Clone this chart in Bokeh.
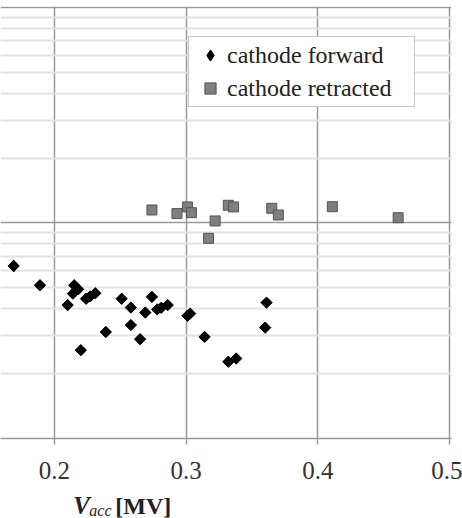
import numpy as np
from bokeh.plotting import figure
from bokeh.layouts import column
from bokeh.models import FixedTicker, Range1d, Legend, LegendItem
from bokeh.embed import file_html
from bokeh.resources import INLINE

# cathode forward (diamonds)
fwd_v = [0.169, 0.189, 0.215, 0.218, 0.214, 0.210, 0.224, 0.227, 0.231, 0.251,
         0.258, 0.258, 0.239, 0.265, 0.220, 0.274, 0.269, 0.278, 0.281, 0.286,
         0.301, 0.303, 0.314, 0.332, 0.338, 0.361, 0.360]
fwd_y = [0.632, 0.514, 0.514, 0.492, 0.470, 0.416, 0.445, 0.456, 0.472, 0.445,
         0.405, 0.336, 0.312, 0.289, 0.257, 0.454, 0.384, 0.397, 0.404, 0.416,
         0.371, 0.380, 0.296, 0.227, 0.235, 0.427, 0.327]

# cathode retracted (squares)
ret_v = [0.274, 0.293, 0.301, 0.304, 0.322, 0.317, 0.332, 0.336, 0.365, 0.370, 0.411, 0.461]
ret_y = [1.149, 1.105, 1.187, 1.116, 1.022, 0.849, 1.208, 1.187, 1.170, 1.089, 1.190, 1.058]

x_ticks = [0.2, 0.3, 0.4, 0.5]
y_major = [0.1, 1, 10]
y_minor = [0.2, 0.3, 0.4, 0.5, 0.6, 0.7, 0.8, 0.9, 2, 3, 4, 5, 6, 7, 8, 9]
series_labels = ["cathode forward", "cathode retracted"]
x_title_parts = ["V", "acc", "[MV]"]

xr = Range1d(0.159, 0.5015)

p = figure(width=462, height=490, output_backend="svg", toolbar_location=None,
           y_axis_type="log", x_range=xr, y_range=Range1d(0.1, 10.1),
           min_border_left=0, min_border_right=11, min_border_top=6, min_border_bottom=52)
p.outline_line_color = None
p.background_fill_color = "white"

yt = FixedTicker(ticks=y_major, minor_ticks=y_minor)
p.yaxis.ticker = yt
p.ygrid.ticker = yt
p.yaxis.visible = False
p.ygrid.grid_line_color = "#9a9a9a"
p.ygrid.grid_line_width = 1.5
p.ygrid.minor_grid_line_color = "#e2e2e2"
p.ygrid.minor_grid_line_width = 2

xt = FixedTicker(ticks=x_ticks, minor_ticks=[])
p.xaxis.ticker = xt
p.xgrid.ticker = xt
p.xgrid.grid_line_color = "#9a9a9a"
p.xgrid.grid_line_width = 1.5

ax = p.xaxis[0]
ax.axis_line_color = "#9a9a9a"
ax.axis_line_width = 1.5
ax.major_tick_line_color = "#9a9a9a"
ax.major_tick_line_width = 1.5
ax.major_tick_out = 6
ax.major_tick_in = 0
ax.minor_tick_line_color = None
ax.major_label_text_font = "Liberation Serif"
ax.major_label_text_font_size = "25px"
ax.major_label_text_color = "#333333"
ax.major_label_standoff = 17

# legend swatch for the diamonds: drawn under the first diamond (hidden by it)
fwd_key = p.scatter(fwd_v[:1], fwd_y[:1], marker="diamond", size=12,
                    fill_color="black", line_color="black")
fwd = p.scatter(fwd_v, fwd_y, marker="square", angle=np.pi / 4, size=8,
                fill_color="black", line_color="black")
ret = p.scatter(ret_v, ret_y, marker="square", size=10,
                fill_color="#7f7f7f", line_color="#555555", line_width=1)

legend = Legend(items=[LegendItem(label=series_labels[0], renderers=[fwd_key]),
                       LegendItem(label=series_labels[1], renderers=[ret])],
                location=(188, 331), padding=4, spacing=5, margin=0,
                glyph_width=34, glyph_height=28, label_height=28, label_width=183,
                label_standoff=0, label_text_font="Liberation Serif",
                label_text_font_size="24px", label_text_color="#222222",
                border_line_color="#8f8f8f", border_line_width=1.5,
                background_fill_color="white", background_fill_alpha=1)
p.add_layout(legend)

# x-axis title strip, sharing the x range (title centred on V = 0.25)
p2 = figure(width=462, height=28, output_backend="svg", toolbar_location=None,
            x_range=xr, y_range=Range1d(0, 1),
            min_border_left=0, min_border_right=11, min_border_top=0, min_border_bottom=0)
p2.axis.visible = False
p2.grid.visible = False
p2.outline_line_color = None
p2.text(x=[0.25], y=[0], text=[x_title_parts[0]], x_offset=-47,
        text_font="Liberation Serif", text_font_style="bold italic",
        text_font_size="25px", text_baseline="bottom", text_align="left",
        text_color="#222222")
p2.text(x=[0.25], y=[0], text=[x_title_parts[1]], x_offset=-31,
        text_font="Liberation Serif", text_font_style="italic",
        text_font_size="16px", text_baseline="bottom", text_align="left",
        text_color="#222222")
p2.text(x=[0.25], y=[0], text=[x_title_parts[2]], x_offset=-5,
        text_font="Liberation Serif", text_font_style="bold",
        text_font_size="24px", text_baseline="bottom", text_align="left",
        text_color="#222222")

layout = column(p, p2, spacing=0)
open("out.html", "w").write(file_html(layout, INLINE))
